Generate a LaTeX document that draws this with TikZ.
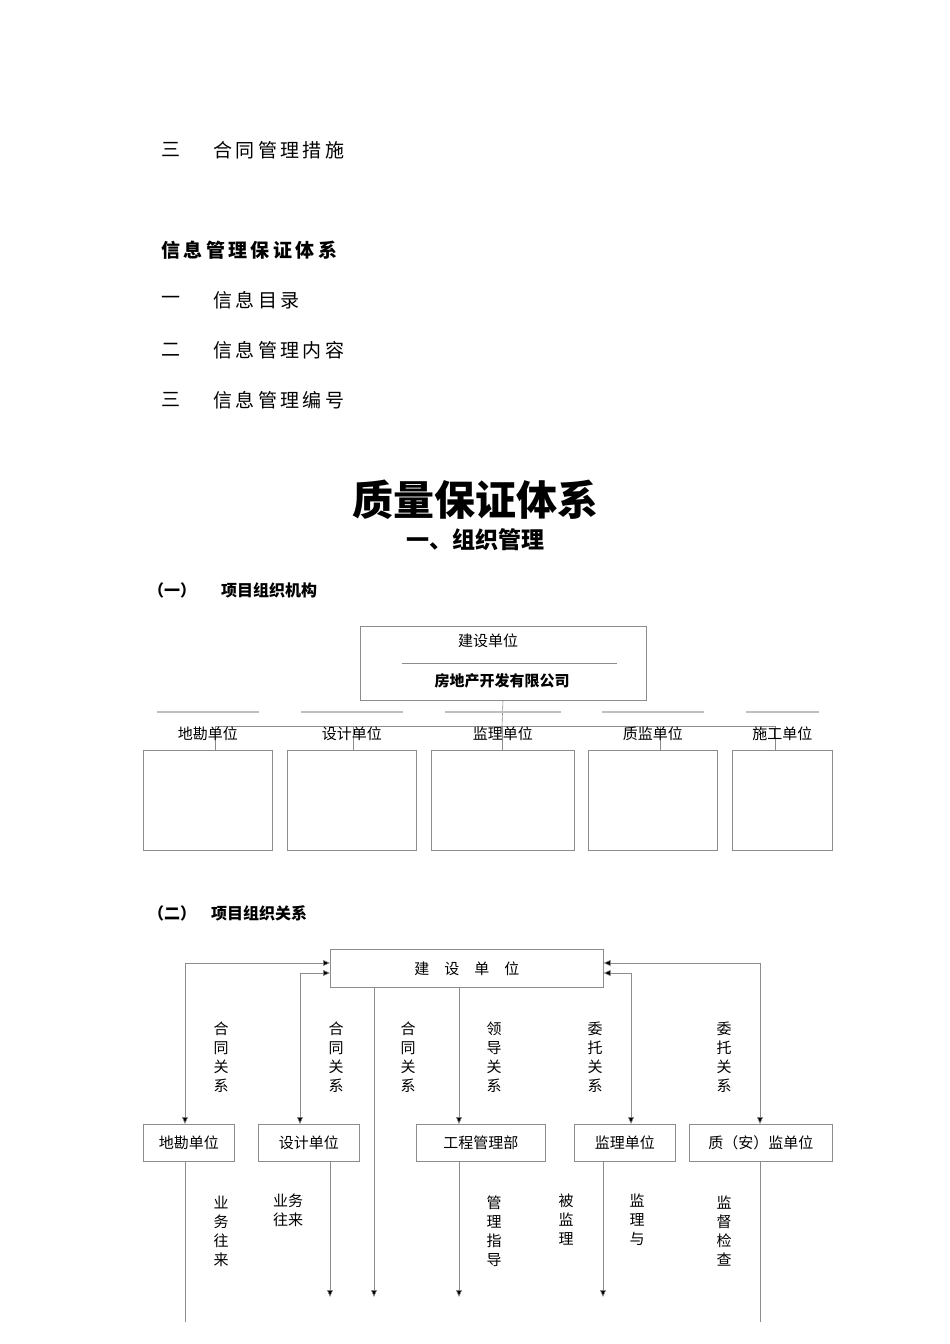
\documentclass[tikz,border=0pt]{standalone}
\usepackage{fontspec}
\setmainfont{Noto Sans CJK SC}
\newfontfamily\spc{Noto Sans CJK SC}[LetterSpace=18]
\usetikzlibrary{arrows.meta}
\tikzset{
 x=1pt,y=-1pt,
 ln/.style={draw=black!45,line width=0.6pt},
 arr/.style={ln,-{Triangle[length=7pt,width=6pt,fill=black]}},
 darr/.style={ln,{Triangle[length=7pt,width=6pt,fill=black]}-{Triangle[length=7pt,width=6pt,fill=black]}},
 bx/.style={draw=black!45,line width=0.6pt,inner sep=0},
 lbl/.style={font=\fontsize{15}{19}\selectfont,align=center,inner sep=0},
 txt/.style={inner sep=0,anchor=west},
}
\begin{document}
\begin{tikzpicture}
\useasboundingbox (0,0) rectangle (950,1344);
% top list
\node[txt,font=\fontsize{19}{19}\selectfont] (n1) at (161,150) {三};
\node[txt,font=\fontsize{19}{19}\selectfont\spc] (n1b) at (213,150) {合同管理措施};
\node[txt,font=\fontsize{19}{19}\selectfont\bfseries\spc] (h1) at (161,250) {信息管理保证体系};
\node[txt,font=\fontsize{19}{19}\selectfont] (n2) at (161,300) {一};
\node[txt,font=\fontsize{19}{19}\selectfont\spc] (n2b) at (213,300) {信息目录};
\node[txt,font=\fontsize{19}{19}\selectfont] (n3) at (161,350) {二};
\node[txt,font=\fontsize{19}{19}\selectfont\spc] (n3b) at (213,350) {信息管理内容};
\node[txt,font=\fontsize{19}{19}\selectfont] (n4) at (161,400) {三};
\node[txt,font=\fontsize{19}{19}\selectfont\spc] (n4b) at (213,400) {信息管理编号};
% titles
\node[inner sep=0,font=\fontsize{41}{41}\selectfont\bfseries] (t1) at (475,500) {质量保证体系};
\node[inner sep=0,font=\fontsize{23}{23}\selectfont\bfseries] (t2) at (475,540) {一、组织管理};
\node[txt,font=\fontsize{16}{16}\selectfont\bfseries] (s1) at (148,590) {（一）};
\node[txt,font=\fontsize{16}{16}\selectfont\bfseries] (s1b) at (221,590) {项目组织机构};
% chart 1
\node[bx,minimum width=286,minimum height=74] (top) at (503,663) {};
\node[inner sep=0,font=\fontsize{15}{15}\selectfont] (topa) at (488,641) {建设单位};
\draw[ln] (402,663) -- (617,663);
\node[inner sep=0,font=\fontsize{15}{15}\selectfont\bfseries] (topb) at (502,681) {房地产开发有限公司};
\draw[ln] (top.south) -- (502,726);
\draw[ln] (215,726) -- (775,726);
\foreach \nm/\x/\w/\cx/\t in {a/143/129/215/地勘单位,b/287/129/353/设计单位,c/431/143/502/监理单位,d/588/129/660/质监单位,e/732/100/775/施工单位}{
  \node[bx,minimum width=\w,minimum height=100,anchor=north west] (c\nm) at (\x,750) {};
  \draw[ln] (\cx,726) -- (\cx,750);
  \node[inner sep=0,font=\fontsize{15}{15}\selectfont] (c\nm t) at ([yshift=16]c\nm.north) {\t};
  \draw[draw=black!25,line width=1.2pt] ([xshift=14,yshift=38]c\nm.north west) -- ([xshift=-14,yshift=38]c\nm.north east);
}
\node[txt,font=\fontsize{16}{16}\selectfont\bfseries] (s2) at (148,913) {（二）};
\node[txt,font=\fontsize{16}{16}\selectfont\bfseries] (s2b) at (211,913) {项目组织关系};
% chart 2
\node[bx,minimum width=273,minimum height=38,anchor=north west,font=\fontsize{15}{15}\selectfont] (B) at (330,949) {建\quad 设\quad 单\quad 位};
\foreach \nm/\x/\w/\t in {k/143/91/地勘单位,s/258/101/设计单位,g/416/129/工程管理部,j/574/101/监理单位,z/689/143/质（安）监单位}{
  \node[bx,minimum width=\w,minimum height=37,anchor=north west,font=\fontsize{15}{15}\selectfont] (\nm) at (\x,1124) {\t};
}
\draw[darr] (B.west |- 0,963) -| (185,1124);
\draw[darr] (B.west |- 0,973) -| (300,1124);
\draw[darr] (B.east |- 0,963) -| (760,1124);
\draw[darr] (B.east |- 0,973) -| (631,1124);
\draw[arr] (374,987) -- (374,1297);
\draw[arr] (459,987) -- (459,1124);
\coordinate (e1) at (185,1322);
\coordinate (e2) at (760,1322);
\draw[ln] (185,1161) -- (e1);
\draw[ln] (760,1161) -- (e2);
\draw[arr] (330,1161) -- (330,1297);
\draw[arr] (459,1161) -- (459,1297);
\draw[arr] (603,1161) -- (603,1297);
% labels
\node[lbl] (l1) at (221,1057) {合\\同\\关\\系};
\node[lbl] (l2) at (336,1057) {合\\同\\关\\系};
\node[lbl] (l3) at (408,1057) {合\\同\\关\\系};
\node[lbl] (l4) at (494,1057) {领\\导\\关\\系};
\node[lbl] (l5) at (595,1057) {委\\托\\关\\系};
\node[lbl] (l6) at (724,1057) {委\\托\\关\\系};
\node[lbl] (m1) at (221,1231) {业\\务\\往\\来};
\node[lbl,anchor=north] (m2) at (288,1194) {业务\\往来};
\node[lbl] (m3) at (494,1231) {管\\理\\指\\导};
\node[lbl,anchor=north] (m4) at (566,1194) {被\\监\\理};
\node[lbl,anchor=north] (m5) at (637,1194) {监\\理\\与};
\node[lbl] (m6) at (724,1231) {监\\督\\检\\查};
\end{tikzpicture}
\end{document}
